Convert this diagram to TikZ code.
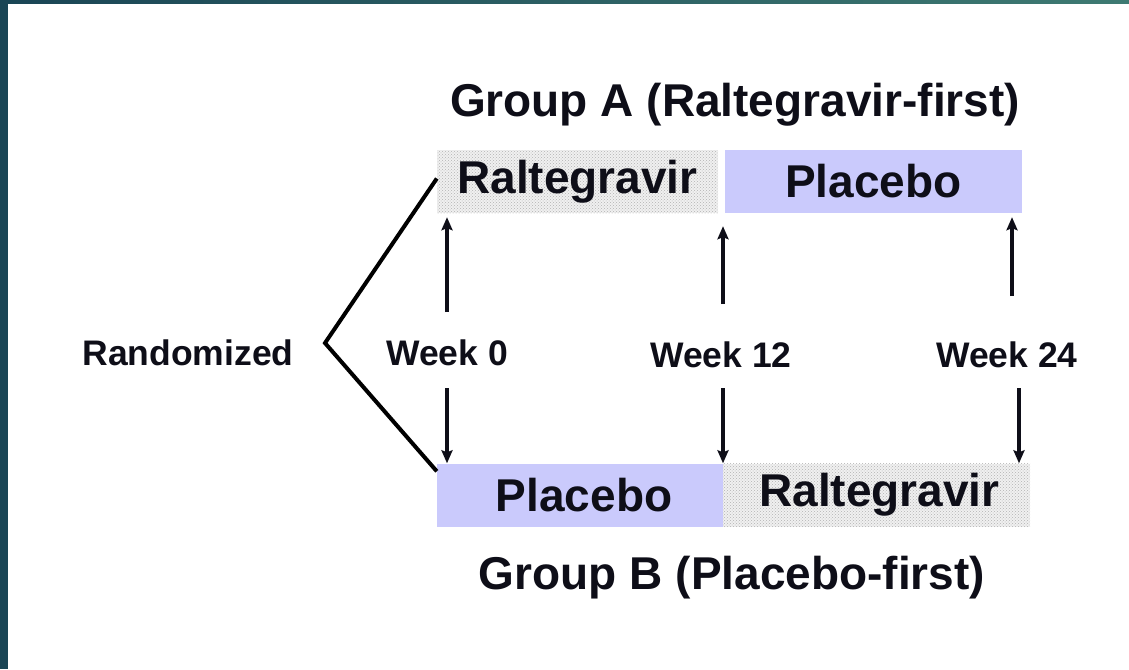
\documentclass[tikz,border=0pt]{standalone}
\usepackage{fontspec}
\setmainfont{Liberation Sans}
\usetikzlibrary{arrows.meta,patterns}
\definecolor{lav}{RGB}{202,202,252}
\definecolor{edgeA}{RGB}{26,69,85}
\definecolor{edgeB}{RGB}{62,122,114}
\definecolor{ink}{RGB}{14,14,24}
\tikzset{
  bigtxt/.style={font=\fontsize{46}{50}\selectfont\bfseries, text=ink, inner sep=0pt},
  smalltxt/.style={font=\fontsize{35.5}{40}\selectfont\bfseries, text=ink, inner sep=0pt},
  lavbox/.style={bigtxt, fill=lav, minimum height=63pt},
  graybox/.style={bigtxt, preaction={fill=gray!12}, pattern=crosshatch dots, pattern color=gray!60, minimum height=63pt},
  arr/.style={line width=3.2pt, draw=ink, -{Stealth[length=13pt,width=11pt,inset=2pt]}},
  bracket/.style={line width=4pt, draw=black, line join=miter}
}
\begin{document}
\begin{tikzpicture}[x=1pt,y=-1pt]
\useasboundingbox (0,0) rectangle (1129,669);
\fill[white] (0,0) rectangle (1129,669);
% frame strips
\fill[edgeA] (0,0) rectangle (8,669);
\shade[left color=edgeA, right color=edgeB] (0,0) rectangle (1129,4);

% boxes
\node[graybox, minimum width=281pt] (ra) at (577.5,181.5) {Raltegravir};
\node[lavbox, minimum width=297pt] (pa) at (873.5,181.5) {Placebo};
\node[lavbox, minimum width=286pt] (pb) at (580,495) {\hspace*{8pt}Placebo};
\node[graybox, minimum width=307pt] (rb) at (876.5,495) {\hspace*{6pt}Raltegravir};

% titles
\node[bigtxt] (ga) at (735,105) {Group A (Raltegravir-first)};
\node[bigtxt] (gb) at (732,578) {Group B (Placebo-first)};

% labels
\node[smalltxt] (rand) at (188,353) {Randomized};
\node[smalltxt] (w0) at (447,353) {Week 0};
\node[smalltxt] (w12) at (721,355) {Week 12};
\node[smalltxt] (w24) at (1007,355) {Week 24};

% bracket
\coordinate (v) at (325,343);
\draw[bracket] ([yshift=3pt]ra.west) -- (v) -- ([yshift=-8pt]pb.north west);

% arrows up
\coordinate (a0) at (447,312);
\coordinate (a12) at (723,304);
\coordinate (a24) at (1012,296);
\draw[arr, shorten >=4pt] (a0) -- (a0 |- ra.south);
\draw[arr, shorten >=13pt] (a12) -- (a12 |- ra.south);
\draw[arr, shorten >=4pt] (a24) -- (a24 |- pa.south);

% arrows down
\coordinate (b0) at (447,388);
\coordinate (b12) at (723,388);
\coordinate (b24) at (1019,388);
\draw[arr] (b0) -- (b0 |- pb.north);
\draw[arr] (b12) -- (b12 |- pb.north);
\draw[arr] (b24) -- (b24 |- rb.north);
\end{tikzpicture}
\end{document}
